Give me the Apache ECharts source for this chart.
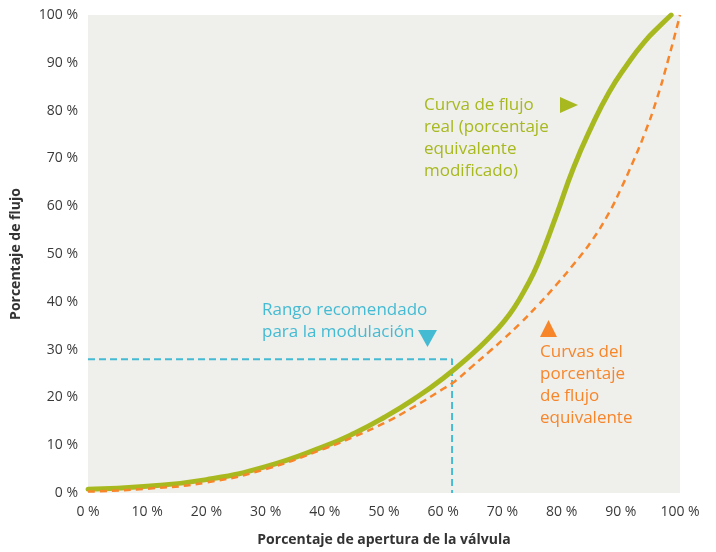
<!doctype html>
<html>
<head>
  <meta charset="utf-8">
  <title>Curvas de flujo</title>
  <script src="https://cdn.jsdelivr.net/npm/echarts@6/dist/echarts.min.js"></script>
  <style>
    html, body { margin: 0; padding: 0; background: #fff; }
    #main { width: 716px; height: 552px; }
  </style>
</head>
<body>
  <div id="main"></div>
  <script>
    // apertura (%) -> flujo (%)
    var curvaReal = [
      [0, 0.8], [10, 1.4], [20, 2.8], [30, 5.5], [40, 9.8], [45, 12.5], [50, 15.8],
      [55, 19.6], [60, 24.0], [65, 29.2], [68, 32.8], [70, 35.5], [72, 38.8], [74, 43],
      [76, 48], [79, 57.7], [82, 68], [85, 76.5], [88, 83.8], [91, 89.5], [94, 94.4],
      [97, 98.2], [98.5, 100]
    ];
    var curvaEquiv = [
      [0, 0.3], [10, 0.9], [20, 2.2], [30, 5.0], [40, 9.3], [45, 11.8], [50, 14.6],
      [55, 18.0], [60, 21.8], [62, 23.4], [65, 26.6], [68, 29.8], [70, 32.0], [73, 35.5],
      [76, 39.3], [79, 43.4], [82, 47.8], [85, 52.6], [88, 58.6], [90, 63.6], [92, 69.1],
      [94, 75.1], [96, 82.1], [98, 90.6], [100, 100]
    ];
    var rangoModulacion = [[0, 28], [61.5, 28], [61.5, 0]];

    var verde = '#a8b91f', naranja = '#f7862b', azul = '#45bbd3';
    var fuente = '"Open Sans", "Noto Sans", sans-serif';

    var chart = echarts.init(document.getElementById('main'));
    chart.setOption({
      animation: false,
      grid: {
        left: 88, top: 15, width: 592, height: 480,
        show: true, backgroundColor: '#efefeb', borderWidth: 0
      },
      xAxis: {
        type: 'value', min: 0, max: 100, interval: 10,
        name: 'Porcentaje de apertura de la válvula',
        nameLocation: 'middle', nameGap: 40,
        nameTextStyle: { fontFamily: fuente, fontWeight: 'bold', fontSize: 14, color: '#333' },
        axisLine: { show: false }, axisTick: { show: false }, splitLine: { show: false },
        axisLabel: { formatter: '{value} %', fontFamily: fuente, fontSize: 14, color: '#3a3a3a', margin: 12 }
      },
      yAxis: {
        type: 'value', min: 0, max: 100, interval: 10,
        name: 'Porcentaje de flujo',
        nameLocation: 'middle', nameGap: 65,
        nameTextStyle: { fontFamily: fuente, fontWeight: 'bold', fontSize: 14, color: '#333' },
        axisLine: { show: false }, axisTick: { show: false }, splitLine: { show: false },
        axisLabel: { formatter: '{value} %', fontFamily: fuente, fontSize: 14, color: '#3a3a3a', margin: 10 }
      },
      series: [
        {
          type: 'line', data: rangoModulacion, showSymbol: false, z: 1,
          lineStyle: { color: azul, width: 2, type: [7, 4] }
        },
        {
          type: 'line', data: curvaReal, smooth: 0.5, showSymbol: false, z: 2,
          lineStyle: { color: verde, width: 5, cap: 'round' }
        },
        {
          type: 'line', data: curvaEquiv, smooth: 0.5, showSymbol: false, z: 3,
          lineStyle: { color: naranja, width: 2.5, type: [7, 5] }
        }
      ],
      graphic: [
        {
          type: 'text', left: 424, top: 94,
          style: { text: 'Curva de flujo\nreal (porcentaje\nequivalente\nmodificado)', fill: verde, font: '17px ' + fuente, lineHeight: 22 }
        },
        { type: 'polygon', shape: { points: [[560, 97], [578, 105], [560, 113]] }, style: { fill: verde } },
        {
          type: 'text', left: 262, top: 299,
          style: { text: 'Rango recomendado\npara la modulación', fill: azul, font: '17px ' + fuente, lineHeight: 22 }
        },
        { type: 'polygon', shape: { points: [[418, 330], [437, 330], [427.5, 347]] }, style: { fill: azul } },
        {
          type: 'text', left: 540, top: 341,
          style: { text: 'Curvas del\nporcentaje\nde flujo\nequivalente', fill: naranja, font: '17px ' + fuente, lineHeight: 22 }
        },
        { type: 'polygon', shape: { points: [[540, 337], [557, 337], [548.5, 320]] }, style: { fill: naranja } }
      ]
    });
  </script>
</body>
</html>
